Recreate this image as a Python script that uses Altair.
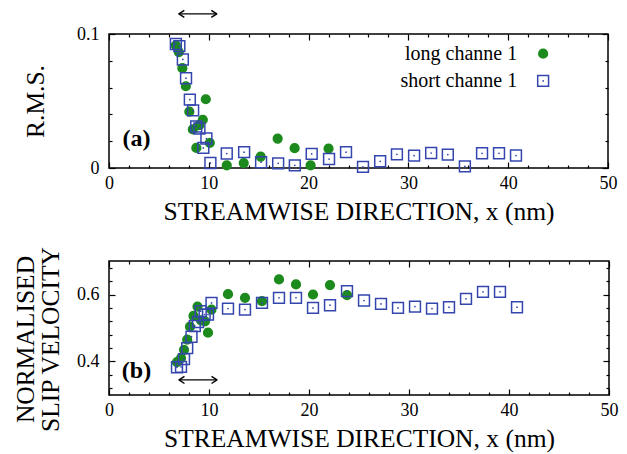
import altair as alt
import pandas as pd

FONT = "Liberation Serif"
GREEN = "#1c8a1c"
BLUE = "#3446ae"
SERIES = ["long channe 1", "short channe 1"]
X_TITLE = "STREAMWISE DIRECTION, x (nm)"

# ---- panel (a): R.M.S. ----
a_long_x = [6.7, 7.0, 7.35, 7.7, 8.05, 8.4, 8.75, 9.05, 9.4, 9.7, 10.1,
            11.8, 13.5, 15.2, 16.9, 18.6, 20.2, 22.0]
a_long_y = [0.0915, 0.0865, 0.0745, 0.061, 0.042, 0.0288, 0.015, 0.032, 0.036,
            0.0513, 0.0188, 0.002, 0.0037, 0.0085, 0.022, 0.0148, 0.002, 0.0145]
a_short_x = [6.7, 7.05, 7.4, 7.72, 8.1, 8.43, 8.74, 9.06, 9.45, 9.76, 10.16,
             11.8, 13.54, 15.24, 16.95, 18.62, 20.31, 22.05, 23.75, 25.45,
             27.17, 28.85, 30.57, 32.28, 33.95, 35.66, 37.38, 39.08, 40.78]
a_short_y = [0.0925, 0.091, 0.081, 0.067, 0.051, 0.043, 0.031, 0.0295, 0.015,
             0.022, 0.0037, 0.0108, 0.0118, 0.0043, 0.0035, 0.002, 0.0105,
             0.0067, 0.0118, 0.0008, 0.005, 0.0102, 0.0092, 0.0112, 0.010,
             0.0012, 0.011, 0.011, 0.0093]

# ---- panel (b): normalised slip velocity ----
b_long_x = [6.8, 7.2, 7.5, 7.82, 8.1, 8.45, 8.85, 9.2, 9.6, 9.9, 10.25,
            11.9, 13.6, 15.3, 17.0, 18.7, 20.4, 22.1, 23.8]
b_long_y = [0.398, 0.41, 0.435, 0.465, 0.504, 0.536, 0.564, 0.523, 0.52,
            0.486, 0.555, 0.601, 0.59, 0.58, 0.645, 0.63, 0.6, 0.628, 0.598]
b_short_x = [6.8, 7.2, 7.5, 7.82, 8.25, 8.58, 8.9, 9.17, 9.56, 9.9, 10.25,
             11.9, 13.6, 15.3, 17.0, 18.7, 20.4, 22.1, 23.8, 25.5, 27.2,
             28.9, 30.6, 32.3, 34.0, 35.7, 37.4, 39.1, 40.8]
b_short_y = [0.383, 0.384, 0.407, 0.44, 0.474, 0.506, 0.518, 0.55, 0.54,
             0.54, 0.575, 0.558, 0.555, 0.575, 0.59, 0.59, 0.56, 0.568, 0.61,
             0.582, 0.572, 0.56, 0.564, 0.558, 0.562, 0.587, 0.608, 0.608, 0.562]

x_major = [0, 10, 20, 30, 40, 50]
x_minor = [2, 4, 6, 8, 12, 14, 16, 18, 22, 24, 26, 28, 32, 34, 36, 38, 42, 44, 46, 48]
a_y_major = [0, 0.1]
a_y_minor = [0.02, 0.04, 0.06, 0.08]
b_y_major = [0.4, 0.6]
b_y_minor = [0.32, 0.36, 0.44, 0.48, 0.52, 0.56, 0.64, 0.68]

# annotations (data units)
arrow_x = [7.0, 10.8]
a_arrow_y = 0.115
b_arrow_y = 0.345
a_label = {"x": 2.75, "y": 0.0215, "t": "(a)"}
b_label = {"x": 2.75, "y": 0.372, "t": "(b)"}
legend_label_x = 40.9
legend_symbol_x = 43.5
legend_y = [0.0853, 0.065]


def make_df(lx, ly, sx, sy):
    return pd.concat([
        pd.DataFrame({"x": lx, "y": ly, "series": SERIES[0]}),
        pd.DataFrame({"x": sx, "y": sy, "series": SERIES[1]}),
    ], ignore_index=True)


def series_encodings():
    return dict(
        shape=alt.Shape("series:N", scale=alt.Scale(domain=SERIES, range=["circle", "square"]), legend=None),
        fill=alt.Fill("series:N", scale=alt.Scale(domain=SERIES, range=[GREEN, "transparent"]), legend=None),
        stroke=alt.Stroke("series:N", scale=alt.Scale(domain=SERIES, range=[GREEN, BLUE]), legend=None),
        size=alt.Size("series:N", scale=alt.Scale(domain=SERIES, range=[76, 118]), legend=None),
    )


def panel(df, ydomain, y_major, y_minor, ytitle, label, arrow_y, width,
          with_legend, ytitle_pad, ytitle_y=None):
    xs = alt.Scale(domain=[0, 50], nice=False, zero=False)
    ys = alt.Scale(domain=ydomain, nice=False, zero=False)
    common = dict(domain=False, grid=False, labelFlush=False, labelOverlap=False,
                  tickColor="black", tickWidth=1.2, minExtent=0)
    base = alt.Chart(df).mark_point(opacity=0)

    yt_kw = dict(title=ytitle, titlePadding=ytitle_pad, titleLineHeight=25)
    if ytitle_y is not None:
        yt_kw["titleY"] = ytitle_y

    layers = []
    layers.append(base.encode(
        x=alt.X("x:Q", scale=xs, axis=alt.Axis(
            orient="bottom", values=x_major, tickSize=6, offset=-6, format="d",
            title=X_TITLE, labelPadding=6, titlePadding=7, **common)),
        y=alt.Y("y:Q", scale=ys, axis=alt.Axis(
            orient="left", values=y_major, tickSize=6, offset=-6, format=".1~f",
            labelPadding=10, **yt_kw, **common)),
    ))
    layers.append(base.encode(
        x=alt.X("x:Q", scale=xs, axis=alt.Axis(
            orient="bottom", values=x_minor, tickSize=3, offset=-3,
            labels=False, title=None, **common)),
        y=alt.Y("y:Q", scale=ys, axis=alt.Axis(
            orient="left", values=y_minor, tickSize=3, offset=-3,
            labels=False, title=None, **common)),
    ))
    layers.append(base.encode(
        x=alt.X("x:Q", scale=xs, axis=alt.Axis(
            orient="top", values=x_major, tickSize=6, offset=-6,
            labels=False, title=None, **common)),
        y=alt.Y("y:Q", scale=ys, axis=alt.Axis(
            orient="right", values=y_major, tickSize=6, offset=-6,
            labels=False, title=None, **common)),
    ))
    layers.append(base.encode(
        x=alt.X("x:Q", scale=xs, axis=alt.Axis(
            orient="top", values=x_minor, tickSize=3, offset=-3,
            labels=False, title=None, **common)),
        y=alt.Y("y:Q", scale=ys, axis=alt.Axis(
            orient="right", values=y_minor, tickSize=3, offset=-3,
            labels=False, title=None, **common)),
    ))

    def pos(xf="x", yf="y"):
        return dict(x=alt.X(f"{xf}:Q", scale=xs, axis=None),
                    y=alt.Y(f"{yf}:Q", scale=ys, axis=None))

    pts = alt.Chart(df).mark_point(opacity=1, strokeWidth=1.5).encode(
        **series_encodings(), **pos())
    dots = alt.Chart(df[df["series"] == SERIES[1]]).mark_point(
        filled=True, size=3, color=BLUE, opacity=1).encode(**pos())

    adf = pd.DataFrame({"x": [arrow_x[0]], "x2": [arrow_x[1]], "y": [arrow_y]})
    rule = alt.Chart(adf).mark_rule(color="black", strokeWidth=1.4).encode(
        x2="x2:Q", **pos())
    head_l = alt.Chart(adf).mark_point(
        shape="M1,-0.65L0,0L1,0.65", size=120, filled=False, color="black",
        strokeWidth=1.4, strokeJoin="round", opacity=1).encode(**pos())
    head_r = alt.Chart(adf).mark_point(
        shape="M-1,-0.65L0,0L-1,0.65", size=120, filled=False, color="black",
        strokeWidth=1.4, strokeJoin="round", opacity=1).encode(**pos("x2"))

    ldf = pd.DataFrame({"x": [label["x"]], "y": [label["y"]], "t": [label["t"]]})
    txt = alt.Chart(ldf).mark_text(font=FONT, fontSize=24, fontWeight="bold",
                                   color="black", align="center", baseline="middle").encode(
        text="t:N", **pos())

    layer_list = layers + [pts, dots, rule, head_l, head_r, txt]

    if with_legend:
        legdf = pd.DataFrame({"series": SERIES, "lx": [legend_label_x] * 2,
                              "sx": [legend_symbol_x] * 2, "y": legend_y})
        leg_txt = alt.Chart(legdf).mark_text(
            font=FONT, fontSize=20, color="black", align="right", baseline="middle").encode(
            text="series:N", **pos("lx"))
        leg_sym = alt.Chart(legdf).mark_point(opacity=1, strokeWidth=1.5).encode(
            **series_encodings(), **pos("sx"))
        leg_dot = alt.Chart(legdf[legdf["series"] == SERIES[1]]).mark_point(
            filled=True, size=3, color=BLUE, opacity=1).encode(**pos("sx"))
        layer_list += [leg_txt, leg_sym, leg_dot]

    return alt.layer(*layer_list).resolve_axis(
        x="independent", y="independent").properties(width=width, height=134)


top = panel(make_df(a_long_x, a_long_y, a_short_x, a_short_y), [0, 0.1],
            a_y_major, a_y_minor, "R.M.S.", a_label, a_arrow_y, 499, True, 28)
bottom = panel(make_df(b_long_x, b_long_y, b_short_x, b_short_y), [0.3, 0.7],
               b_y_major, b_y_minor, ["NORMALISED", "SLIP VELOCITY"], b_label,
               b_arrow_y, 500, False, 13, ytitle_y=78)

chart = alt.vconcat(top, bottom, spacing=19).properties(
    padding={"left": 4, "top": 0, "right": 0, "bottom": 0}
).configure(font=FONT).configure_axis(
    labelFont=FONT, titleFont=FONT, labelFontSize=18, titleFontSize=25.5,
    labelColor="black", titleColor="black", titleFontWeight="normal"
).configure_view(stroke="black", strokeWidth=1.5)

chart.save("out.html", embed_options={"renderer": "svg", "actions": False})
